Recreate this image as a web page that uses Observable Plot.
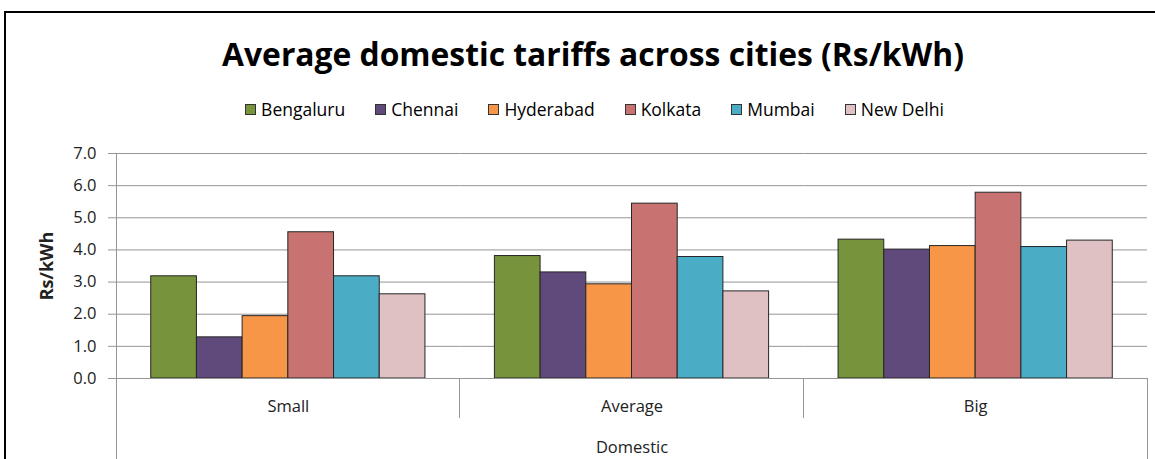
<!DOCTYPE html>
<html><head><meta charset="utf-8">
<script src="https://cdn.jsdelivr.net/npm/d3@7"></script>
<script src="https://cdn.jsdelivr.net/npm/@observablehq/plot@0.6"></script>
<style>
html,body{margin:0;padding:0;background:#fff;}
body{width:1155px;height:459px;overflow:hidden;position:relative;font-family:"Open Sans",sans-serif;color:#000;}
#frame{position:absolute;left:4px;top:11px;width:1200px;height:520px;border:2px solid #000;box-sizing:border-box;}
#title{position:absolute;left:0;width:1186px;top:33px;text-align:center;font-weight:bold;font-size:31.8px;line-height:42px;white-space:nowrap;}
#legend{position:absolute;top:97px;left:0;width:1189px;display:flex;justify-content:center;font-size:17.5px;line-height:24px;}
#legend .item{display:flex;align-items:center;margin:0 15px;}
#legend .sw{width:9px;height:9px;border:1px solid #333;margin-right:5px;}
#chart{position:absolute;left:0;top:130px;}
</style>
</head><body>
<div id="frame"></div>
<div id="title"></div>
<div id="legend"></div>
<div id="chart"></div>
<script>
const titleText = "Average domestic tariffs across cities (Rs/kWh)";
const categories = ["Small", "Average", "Big"];
const groupLabel = "Domestic";
const yLabel = "Rs/kWh";
const cities = ["Bengaluru", "Chennai", "Hyderabad", "Kolkata", "Mumbai", "New Delhi"];
const colors = ["#77933C", "#604A7B", "#F79646", "#C87371", "#4BACC6", "#E0C1C3"];
const smallValues = [3.18, 1.28, 1.94, 4.55, 3.18, 2.62];
const averageValues = [3.81, 3.30, 2.93, 5.44, 3.78, 2.71];
const bigValues = [4.32, 4.01, 4.12, 5.78, 4.09, 4.29];
const yTicks = [0, 1, 2, 3, 4, 5, 6, 7];

const seriesByCategory = [smallValues, averageValues, bigValues];
const rows = categories.flatMap((c, i) => cities.map((city, j) => ({category: c, city, value: seriesByCategory[i][j]})));

document.getElementById("title").textContent = titleText;
const legend = d3.select("#legend");
cities.forEach((c, i) => {
  const it = legend.append("div").attr("class", "item");
  it.append("div").attr("class", "sw").style("background", colors[i]);
  it.append("span").text(c);
});

const gray = "#969696";
const plot = Plot.plot({
  width: 1155,
  height: 329,
  marginLeft: 116,
  marginRight: 8,
  marginTop: 23,
  marginBottom: 81,
  style: {fontFamily: "'Open Sans', sans-serif", color: "#000", background: "transparent"},
  fx: {domain: categories, padding: 0, round: false, axis: null},
  x: {domain: cities, paddingInner: 0, paddingOuter: 0.76, round: false, axis: null},
  y: {domain: [0, 7], axis: null},
  color: {domain: cities, range: colors},
  marks: [
    Plot.gridY(yTicks, {stroke: gray, strokeOpacity: 1}),
    Plot.axisY(yTicks, {
      tickSize: 8, tickPadding: 12, stroke: gray, strokeOpacity: 1,
      tickFormat: d3.format(".1f"), fontSize: 16.5, fill: "#222",
      label: yLabel, labelAnchor: "center", labelArrow: "none", labelOffset: 76
    }),
    Plot.barY(rows, {fx: "category", x: "city", y: "value", fill: "city", stroke: "#262626", strokeWidth: 1}),
    Plot.ruleY([0], {stroke: gray}),
    Plot.axisFx({
      anchor: "bottom", tickSize: 0, tickPadding: 22, fontSize: 16.5, fill: "#222",
      label: groupLabel, labelAnchor: "center", labelArrow: "none", labelOffset: 74
    })
  ]
});

const svg = d3.select(plot);
svg.selectAll("[aria-label='y-axis label'] text, [aria-label='y-axis label']").style("font-weight", "bold").style("font-size", "18px");
svg.selectAll("[aria-label='fx-axis label']").style("font-size", "16.5px").attr("fill", "#222");

const fx = plot.scale("fx");
const y = plot.scale("y");
const bw = fx.bandwidth;
const y0 = y.apply(0);
const y7 = y.apply(7);
const bottom = 329;
const g = svg.append("g").attr("stroke", gray).attr("shape-rendering", "crispEdges");
const left = fx.apply(categories[0]);
const right = fx.apply(categories[categories.length - 1]) + bw;
g.append("line").attr("x1", left).attr("x2", left).attr("y1", y7).attr("y2", bottom);
g.append("line").attr("x1", right).attr("x2", right).attr("y1", y0).attr("y2", bottom);
categories.slice(1).forEach(c => {
  const x = fx.apply(c);
  g.append("line").attr("x1", x).attr("x2", x).attr("y1", y0).attr("y2", y0 + 40);
});
document.getElementById("chart").appendChild(plot);
</script>
</body></html>
